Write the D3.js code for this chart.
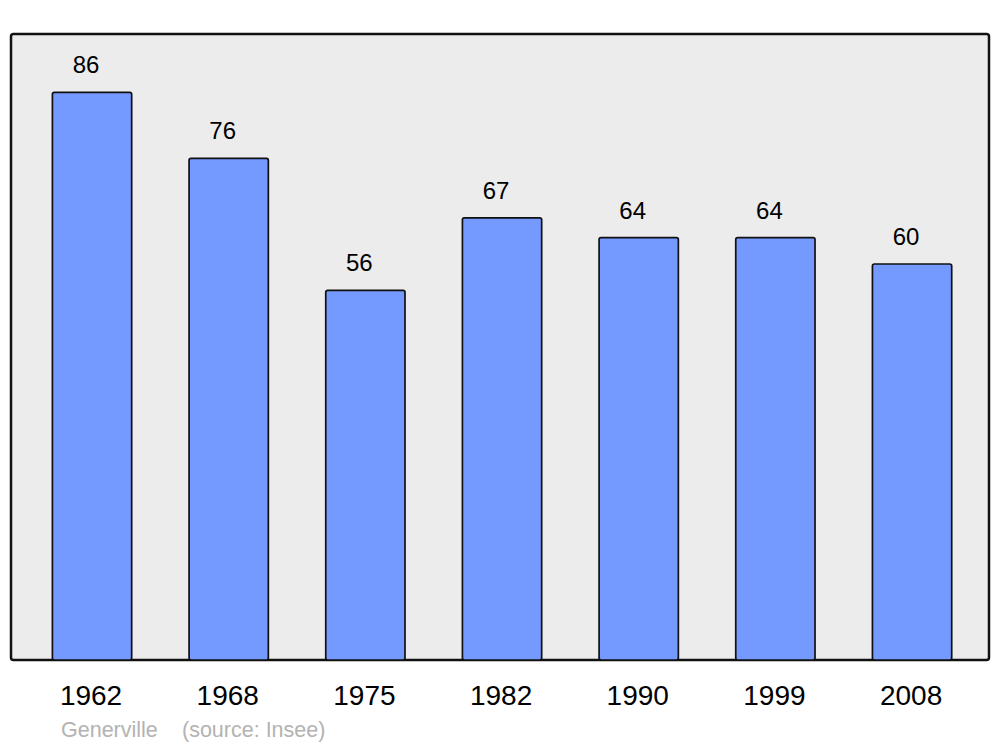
<!DOCTYPE html>
<html><head><meta charset="utf-8">
<script src="https://cdn.jsdelivr.net/npm/d3@7"></script>
<style>body{margin:0;background:#fff}svg{display:block}</style>
</head><body>
<script>
const years = ["1962","1968","1975","1982","1990","1999","2008"];
const population = [86, 76, 56, 67, 64, 64, 60];
const town = "Generville";
const source = "(source: Insee)";

const W = 1000, H = 747;
const panel = {x0: 11, y0: 34, x1: 989, y1: 660};
const svg = d3.select("body").append("svg").attr("width", W).attr("height", H);

const x = d3.scaleBand().domain(years).range([23.7, 980.4]).paddingInner(0.42).paddingOuter(0.21);
const y = d3.scaleLinear().domain([0, 94.85]).range([panel.y1, panel.y0]);

svg.append("rect").attr("x", panel.x0).attr("y", panel.y0)
  .attr("width", panel.x1 - panel.x0).attr("height", panel.y1 - panel.y0)
  .attr("rx", 2.5).attr("fill", "#ececec").attr("stroke", "#111").attr("stroke-width", 2.5);

const data = years.map((yr, i) => ({yr, v: population[i]}));

svg.selectAll("rect.bar").data(data).join("rect").attr("class", "bar")
  .attr("x", d => x(d.yr)).attr("y", d => y(d.v))
  .attr("width", x.bandwidth()).attr("height", d => y(0) - y(d.v))
  .attr("rx", 2).attr("fill", "#7499ff").attr("stroke", "#111").attr("stroke-width", 1.7);

svg.selectAll("text.val").data(data).join("text").attr("class", "val")
  .attr("x", d => x(d.yr) + x.bandwidth() / 2 - 6).attr("y", d => y(d.v) - 19)
  .attr("text-anchor", "middle").attr("font-family", "Liberation Sans, Arial, sans-serif")
  .attr("font-size", 24).attr("fill", "#000").text(d => d.v);

const axis = d3.axisBottom(x).tickSize(0).tickPadding(0);
const g = svg.append("g").attr("transform", `translate(0,${panel.y1})`).call(axis);
g.select(".domain").remove();
g.selectAll("text").attr("y", 45).attr("dy", 0).attr("dx", -1)
  .attr("font-family", "Liberation Sans, Arial, sans-serif").attr("font-size", 28).attr("fill", "#000");

svg.append("text").attr("x", 61).attr("y", 737)
  .attr("font-family", "Liberation Sans, Arial, sans-serif").attr("font-size", 21.5).attr("fill", "#b3b3b3")
  .text(town);
svg.append("text").attr("x", 182).attr("y", 737)
  .attr("font-family", "Liberation Sans, Arial, sans-serif").attr("font-size", 21.5).attr("fill", "#b3b3b3")
  .text(source);
</script>
</body></html>
